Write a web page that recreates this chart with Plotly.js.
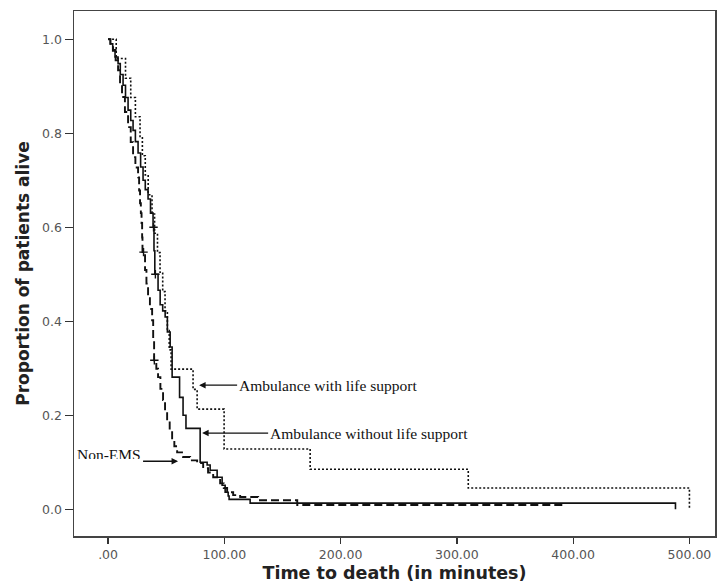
<!DOCTYPE html>
<html>
<head>
<meta charset="utf-8">
<script src="https://cdn.plot.ly/plotly-3.0.1.min.js"></script>
<style>html,body{margin:0;padding:0;background:#fff;}#chart{width:717px;height:587px;}</style>
</head>
<body>
<div id="chart"></div>
<script>
// Ambulance with life support (dotted)
const lifeT = [0, 7, 15, 19.5, 23.5, 27.5, 29.5, 32, 34.5, 37.8, 40, 42.5, 44.7, 47, 49, 51, 52.6, 54.2, 73.1, 76.6, 99.8, 173.8, 309.8, 500];
const lifeS = [1, .959, .917, .876, .835, .793, .752, .711, .669, .628, .587, .546, .504, .463, .422, .380, .339, .298, .255, .213, .128, .085, .045, 0];

// Ambulance without life support (solid)
const noLifeT = [0, 2, 4, 6, 8.6, 10.5, 12.9, 15, 17.2, 19.5, 21.5, 23.5, 25.8, 28, 30.1, 32, 34.4, 36.5, 38.7, 39.5, 40.2, 43, 44.8, 47, 49.1, 51, 53.4, 55.1, 61.5, 64.5, 67, 79.2, 85.2, 87.8, 93.8, 98.1, 100.7, 103.3, 104.1, 122.2, 488];
const noLifeS = [1, .99, .975, .962, .948, .925, .902, .876, .849, .827, .806, .782, .758, .728, .70, .68, .66, .63, .60, .55, .50, .466, .435, .422, .409, .377, .345, .281, .238, .2, .172, .1, .094, .083, .068, .051, .036, .028, .021, .013, 0];

// Non-EMS (dashed)
const nonEmsT = [0, 2, 4.3, 6.5, 8.6, 10.3, 12, 14.5, 17.2, 19.5, 21.5, 23.5, 25.8, 26.7, 27.5, 28.2, 28.8, 29.3, 29.6, 31.8, 33, 34.4, 36, 37.9, 38.8, 39.6, 41.5, 43, 45, 47.3, 49, 50.8, 53, 55.1, 57, 59.4, 64.5, 70.6, 76.6, 81.8, 86, 90.4, 96.4, 99.5, 102.4, 107.6, 113.6, 129.1, 162.7, 391];
const nonEmsS = [1, .99, .977, .955, .934, .905, .877, .845, .813, .781, .749, .727, .706, .678, .651, .630, .609, .578, .547, .509, .480, .451, .426, .402, .360, .317, .299, .281, .256, .232, .210, .189, .168, .147, .134, .121, .111, .104, .098, .087, .078, .068, .055, .045, .036, .030, .026, .019, .009, .009];

// censored marks
const censorT = [30.5, 39.8, 39.1, 40.7];
const censorS = [0.547, 0.317, 0.60, 0.50];

const xTickVals = [0, 100, 200, 300, 400, 500];
const xTickText = ['.00', '100.00', '200.00', '300.00', '400.00', '500.00'];
const yTickVals = [0, 0.2, 0.4, 0.6, 0.8, 1.0];
const yTickText = ['0.0', '0.2', '0.4', '0.6', '0.8', '1.0'];

const labels = ['Ambulance with life support', 'Ambulance without life support', 'Non-EMS'];

const traces = [
  {x: lifeT, y: lifeS, mode: 'lines', line: {shape: 'hv', color: '#111', width: 1.6, dash: '2px,2px'}, name: labels[0]},
  {x: noLifeT, y: noLifeS, mode: 'lines', line: {shape: 'hv', color: '#111', width: 1.6}, name: labels[1]},
  {x: nonEmsT, y: nonEmsS, mode: 'lines', line: {shape: 'hv', color: '#111', width: 1.9, dash: '8px,4px'}, name: labels[2]},
  {x: censorT, y: censorS, mode: 'markers', marker: {symbol: 'cross-thin', size: 6, line: {color: '#111', width: 1.4}}, hoverinfo: 'skip'}
];

const serif = {family: 'Liberation Serif, Times New Roman, serif', size: 15.5, color: '#111'};

const layout = {
  width: 717, height: 587,
  margin: {l: 74, r: 2, t: 11, b: 51},
  paper_bgcolor: '#fff', plot_bgcolor: '#fff',
  showlegend: false,
  xaxis: {
    range: [-29.3, 522], tickvals: xTickVals, ticktext: xTickText,
    ticks: 'outside', ticklen: 6, tickwidth: 1.3, tickcolor: '#333',
    showline: true, mirror: true, linecolor: '#444', linewidth: 1.5,
    showgrid: false, zeroline: false,
    tickfont: {family: 'DejaVu Sans, Verdana, sans-serif', size: 12.5, color: '#555'},
    title: {text: 'Time to death (in minutes)', standoff: 6,
      font: {family: 'DejaVu Sans, Verdana, sans-serif', size: 17.5, color: '#222', weight: 'bold'}}
  },
  yaxis: {
    range: [-0.057, 1.06], tickvals: yTickVals, ticktext: yTickText,
    ticks: 'outside', ticklen: 8, tickwidth: 1.3, tickcolor: '#333',
    showline: true, mirror: true, linecolor: '#444', linewidth: 1.5,
    showgrid: false, zeroline: false,
    tickfont: {family: 'DejaVu Sans, Verdana, sans-serif', size: 12.5, color: '#555'},
    title: {text: 'Proportion of patients alive', standoff: 8,
      font: {family: 'DejaVu Sans, Verdana, sans-serif', size: 17, color: '#222', weight: 'bold'}}
  },
  annotations: [
    {x: 78.3, y: 0.264, xref: 'x', yref: 'y', text: labels[0], showarrow: true,
     ax: 38, ay: 0, xanchor: 'left', yanchor: 'middle', arrowhead: 2, arrowsize: 1, arrowwidth: 1.3, arrowcolor: '#111',
     font: serif, standoff: 0},
    {x: 80.9, y: 0.162, xref: 'x', yref: 'y', text: labels[1], showarrow: true,
     ax: 66, ay: 0, xanchor: 'left', yanchor: 'middle', arrowhead: 2, arrowsize: 1, arrowwidth: 1.3, arrowcolor: '#111',
     font: serif, standoff: 0},
    {x: 60.2, y: 0.102, xref: 'x', yref: 'y', text: labels[2], showarrow: true,
     ax: -35, ay: 0, xanchor: 'right', yanchor: 'bottom', height: 10, valign: 'middle',
     arrowhead: 2, arrowsize: 1, arrowwidth: 1.3, arrowcolor: '#111',
     font: serif, standoff: 0}
  ]
};

Plotly.newPlot('chart', traces, layout, {displayModeBar: false, staticPlot: true});
</script>
</body>
</html>
